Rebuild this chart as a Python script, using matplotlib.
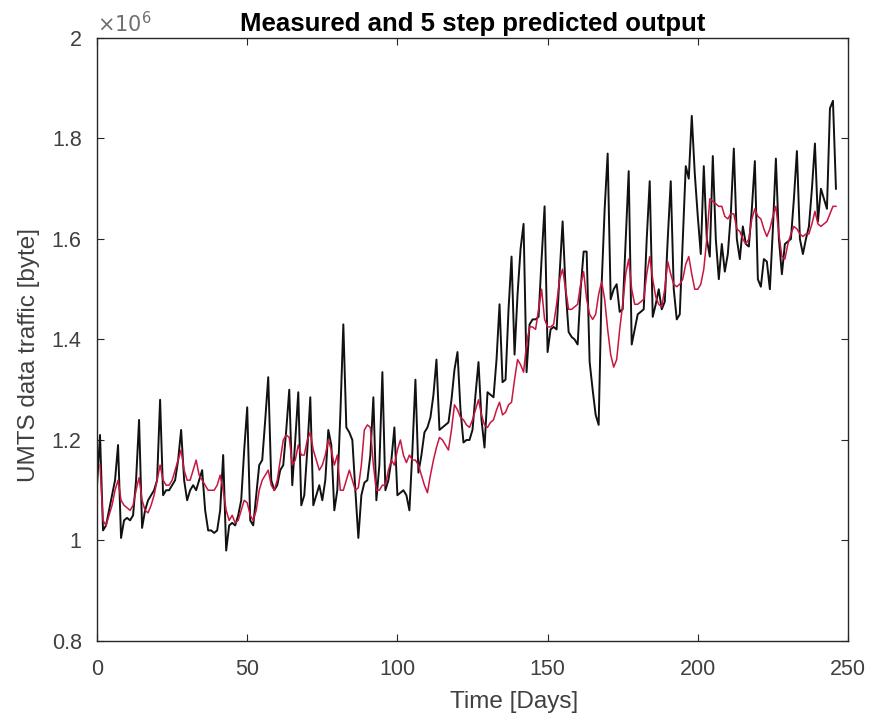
import matplotlib
matplotlib.use("Agg")
import matplotlib.pyplot as plt
from matplotlib.ticker import FuncFormatter

plt.rcParams['font.family'] = ['Liberation Sans', 'DejaVu Sans']

# measured output, in units of 1e6 byte, one value per day from day 0
measured = [
    1.11, 1.21, 1.02, 1.03, 1.06, 1.09, 1.12, 1.19, 1.005, 1.04,
    1.045, 1.04, 1.05, 1.12, 1.24, 1.025, 1.06, 1.08, 1.09, 1.10,
    1.12, 1.28, 1.09, 1.10, 1.10, 1.11, 1.12, 1.16, 1.22, 1.12,
    1.08, 1.10, 1.11, 1.10, 1.12, 1.14, 1.06, 1.02, 1.02, 1.015,
    1.02, 1.06, 1.17, 0.98, 1.03, 1.035, 1.03, 1.05, 1.08, 1.18,
    1.265, 1.04, 1.03, 1.09, 1.15, 1.16, 1.24, 1.325, 1.12, 1.10,
    1.11, 1.14, 1.15, 1.22, 1.30, 1.11, 1.20, 1.295, 1.07, 1.09,
    1.18, 1.285, 1.07, 1.09, 1.11, 1.08, 1.12, 1.22, 1.19, 1.06,
    1.10, 1.25, 1.43, 1.225, 1.215, 1.20, 1.10, 1.005, 1.09, 1.115,
    1.12, 1.17, 1.285, 1.08, 1.15, 1.335, 1.10, 1.12, 1.16, 1.225,
    1.09, 1.095, 1.10, 1.09, 1.06, 1.18, 1.32, 1.135, 1.17, 1.215,
    1.225, 1.245, 1.29, 1.36, 1.22, 1.225, 1.23, 1.235, 1.28, 1.34,
    1.375, 1.26, 1.195, 1.20, 1.20, 1.22, 1.29, 1.355, 1.24, 1.185,
    1.295, 1.29, 1.285, 1.36, 1.47, 1.315, 1.32, 1.46, 1.565, 1.37,
    1.49, 1.58, 1.63, 1.335, 1.43, 1.44, 1.44, 1.445, 1.56, 1.665,
    1.375, 1.42, 1.425, 1.42, 1.53, 1.635, 1.50, 1.415, 1.405, 1.40,
    1.39, 1.50, 1.575, 1.575, 1.355, 1.30, 1.25, 1.23, 1.51, 1.66,
    1.77, 1.48, 1.50, 1.51, 1.455, 1.46, 1.60, 1.735, 1.39, 1.42,
    1.45, 1.455, 1.46, 1.60, 1.715, 1.445, 1.47, 1.50, 1.46, 1.475,
    1.60, 1.715, 1.50, 1.44, 1.45, 1.60, 1.745, 1.72, 1.845, 1.73,
    1.645, 1.57, 1.745, 1.60, 1.565, 1.765, 1.60, 1.52, 1.59, 1.535,
    1.57, 1.65, 1.78, 1.60, 1.56, 1.625, 1.59, 1.585, 1.66, 1.755,
    1.52, 1.505, 1.56, 1.555, 1.50, 1.62, 1.76, 1.60, 1.53, 1.59,
    1.595, 1.60, 1.68, 1.775, 1.60, 1.57, 1.60, 1.625, 1.70, 1.79,
    1.635, 1.70, 1.68, 1.66, 1.86, 1.875, 1.70,
]

# 5 step predicted output, from day 1
predicted = [
    1.15, 1.04, 1.03, 1.05, 1.07, 1.10, 1.12, 1.08, 1.07,
    1.065, 1.06, 1.07, 1.10, 1.125, 1.08, 1.06, 1.055, 1.07, 1.09,
    1.12, 1.15, 1.12, 1.11, 1.11, 1.12, 1.14, 1.16, 1.18, 1.14,
    1.12, 1.12, 1.14, 1.16, 1.13, 1.12, 1.11, 1.10, 1.10, 1.10,
    1.11, 1.13, 1.10, 1.06, 1.04, 1.05, 1.035, 1.04, 1.06, 1.08,
    1.075, 1.05, 1.04, 1.06, 1.10, 1.12, 1.13, 1.14, 1.11, 1.10,
    1.12, 1.16, 1.20, 1.21, 1.205, 1.15, 1.16, 1.19, 1.17, 1.17,
    1.20, 1.215, 1.18, 1.16, 1.14, 1.15, 1.17, 1.20, 1.18, 1.15,
    1.17, 1.10, 1.10, 1.12, 1.14, 1.12, 1.10, 1.105, 1.15, 1.22,
    1.23, 1.225, 1.15, 1.10, 1.10, 1.11, 1.11, 1.14, 1.16, 1.15,
    1.18, 1.20, 1.17, 1.155, 1.17, 1.16, 1.16, 1.15, 1.13, 1.11,
    1.095, 1.13, 1.16, 1.185, 1.205, 1.20, 1.19, 1.18, 1.22, 1.27,
    1.26, 1.245, 1.24, 1.23, 1.225, 1.24, 1.26, 1.28, 1.25, 1.23,
    1.225, 1.235, 1.24, 1.26, 1.275, 1.25, 1.255, 1.27, 1.275, 1.32,
    1.36, 1.35, 1.335, 1.39, 1.425, 1.425, 1.42, 1.46, 1.50, 1.44,
    1.425, 1.425, 1.43, 1.47, 1.52, 1.54, 1.50, 1.46, 1.46, 1.465,
    1.47, 1.51, 1.535, 1.48, 1.45, 1.44, 1.45, 1.49, 1.515, 1.48,
    1.42, 1.37, 1.345, 1.36, 1.42, 1.47, 1.53, 1.56, 1.50, 1.47,
    1.47, 1.475, 1.48, 1.53, 1.565, 1.52, 1.485, 1.47, 1.465, 1.50,
    1.555, 1.53, 1.51, 1.505, 1.51, 1.52, 1.55, 1.565, 1.53, 1.50,
    1.50, 1.51, 1.54, 1.60, 1.68, 1.675, 1.67, 1.665, 1.665, 1.645,
    1.64, 1.65, 1.65, 1.62, 1.615, 1.60, 1.59, 1.60, 1.64, 1.66,
    1.645, 1.64, 1.62, 1.605, 1.62, 1.645, 1.665, 1.61, 1.565, 1.56,
    1.59, 1.61, 1.625, 1.62, 1.61, 1.605, 1.61, 1.61, 1.63, 1.655,
    1.63, 1.625, 1.63, 1.635, 1.65, 1.665, 1.665,
]

days_measured = list(range(len(measured)))
days_predicted = list(range(1, len(predicted) + 1))

xticks = [0, 50, 100, 150, 200, 250]
yticks = [0.8, 1.0, 1.2, 1.4, 1.6, 1.8, 2.0]

axis_col = '#262626'
text_col = '#404040'

fig = plt.figure(figsize=(8.78, 7.21), dpi=100)
ax = fig.add_axes([0.1105, 0.111, 0.8553, 0.8363])

ax.plot(days_measured, measured, color='#111111', lw=1.4)
ax.plot(days_predicted, predicted, color='#c8163f', lw=1.1)

ax.set_xlim(0, 250)
ax.set_ylim(0.8, 2.0)
ax.set_xticks(xticks)
ax.set_yticks(yticks)
ax.yaxis.set_major_formatter(FuncFormatter(lambda v, p: '%g' % round(v, 1)))

ax.tick_params(direction='in', top=True, right=True, length=5, width=0.8,
               colors=axis_col, labelcolor=text_col, labelsize=15.5)
ax.tick_params(axis='x', pad=13)
ax.tick_params(axis='y', pad=11)
for s in ax.spines.values():
    s.set_color(axis_col)
    s.set_linewidth(1.0)

ax.set_title('Measured and 5 step predicted output', fontsize=18.5,
             fontweight='bold', color='black', pad=5)
ax.set_xlabel('Time [Days]', fontsize=17.5, color=text_col)
ax.xaxis.set_label_coords(0.555, -0.102, transform=ax.transAxes)
ax.xaxis.label.set_va('center')
ax.set_ylabel('UMTS data traffic [byte]', fontsize=17.5, color=text_col)
ax.yaxis.set_label_coords(-0.09, 0.474, transform=ax.transAxes)
ax.yaxis.label.set_va('center')
ax.text(0.0, 1.003, r'$\times10^{6}$', transform=ax.transAxes, fontsize=15,
        color='#707070', ha='left', va='bottom')

fig.savefig('out.png', dpi=100)
